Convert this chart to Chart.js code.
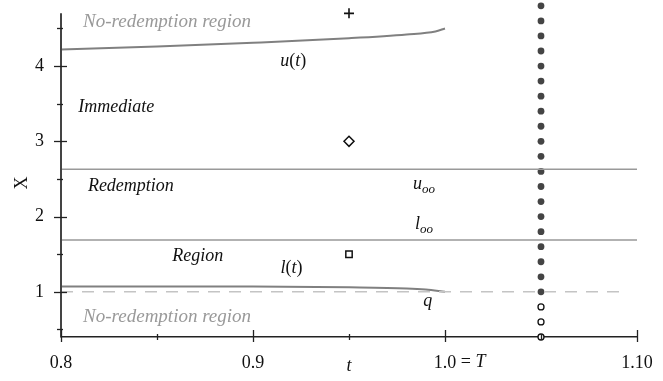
<!DOCTYPE html>
<html>
<head>
<meta charset="utf-8">
<script src="https://cdn.jsdelivr.net/npm/chart.js@4"></script>
<style>
  body { margin: 0; background: #fff; }
  canvas { display: block; }
</style>
</head>
<body>
<canvas id="regionChart" width="663" height="381"></canvas>
<script>
// boundary curves
const uT = [0.8, 0.85, 0.9, 0.95, 0.98, 0.995, 1.0];
const uX = [4.22, 4.26, 4.31, 4.37, 4.42, 4.46, 4.50];
const lT = [0.8, 0.9, 0.95, 0.98, 0.99, 1.0];
const lX = [1.07, 1.07, 1.06, 1.045, 1.03, 1.0];

// limits
const uInf = 2.63;
const lInf = 1.69;
const q = 1.0;

// column at t = 1.05
const colT = 1.05;
const filledX = [1.0, 1.2, 1.4, 1.6, 1.8, 2.0, 2.2, 2.4, 2.6, 2.8, 3.0, 3.2, 3.4, 3.6, 3.8, 4.0, 4.2, 4.4, 4.6, 4.8];
const openX = [0.4, 0.6, 0.8];

// single markers at t = 0.95
const markT = 0.95;
const plusX = 4.7;
const diamondX = 3.0;
const squareX = 1.5;

const xTicks = [0.8, 0.85, 0.9, 0.95, 1.0, 1.05, 1.1];
const xLabels = ['0.8', '', '0.9', '', '1.0', '', '1.10'];
const yTicks = [0.5, 1, 1.5, 2, 2.5, 3, 3.5, 4, 4.5];
const yLabels = ['', '1', '', '2', '', '3', '', '4', ''];
const yAxisTop = 4.7;

const serif = "'Liberation Serif', 'DejaVu Serif', serif";
const pts = (xs, ys) => xs.map((x, i) => ({ x: x, y: ys[i] }));
const col = (t, ys) => ys.map(y => ({ x: t, y: y }));

// draw a run of text pieces centred (or left aligned) at x,y
function runs(ctx, x, y, parts, align) {
  let w = 0;
  parts.forEach(p => {
    ctx.font = (p.italic ? 'italic ' : '') + (p.size || 18) + 'px ' + serif;
    p.w = ctx.measureText(p.s).width;
    w += p.w;
  });
  let cx = align === 'left' ? x : x - w / 2;
  parts.forEach(p => {
    ctx.font = (p.italic ? 'italic ' : '') + (p.size || 18) + 'px ' + serif;
    ctx.fillStyle = p.color || '#111';
    ctx.textAlign = 'left';
    ctx.textBaseline = 'middle';
    ctx.fillText(p.s, cx, y + (p.dy || 0));
    cx += p.w;
  });
}

const decor = {
  id: 'decor',
  afterDraw(chart) {
    const ctx = chart.ctx;
    const xs = chart.scales.x, ys = chart.scales.y;
    const X = v => xs.getPixelForValue(v);
    const Y = v => ys.getPixelForValue(v);
    ctx.save();
    // y axis line, stops at 4.7
    ctx.strokeStyle = '#444';
    ctx.lineWidth = 2;
    ctx.beginPath();
    ctx.moveTo(xs.left, Y(yAxisTop));
    ctx.lineTo(xs.left, ys.bottom);
    ctx.stroke();
    // crossing ticks
    ctx.strokeStyle = '#222';
    ctx.lineWidth = 1.3;
    xTicks.forEach((v, i) => {
      const major = xLabels[i] !== '';
      const px = Math.round(X(v)) + 0.5;
      ctx.beginPath();
      ctx.moveTo(px, ys.bottom - (major ? 7 : 3));
      ctx.lineTo(px, ys.bottom + (major ? 5 : 3));
      ctx.stroke();
    });
    yTicks.forEach((v, i) => {
      const major = yLabels[i] !== '';
      const py = Math.round(Y(v)) + 0.5;
      ctx.beginPath();
      ctx.moveTo(xs.left - (major ? 7 : 4), py);
      ctx.lineTo(xs.left + (major ? 6 : 2), py);
      ctx.stroke();
    });
    // "= T" after 1.0
    ctx.font = '18px ' + serif;
    const w10 = ctx.measureText('1.0').width;
    runs(ctx, X(1.0) + w10 / 2, 362, [{ s: ' = ' }, { s: 'T', italic: true }], 'left');
    // axis titles
    runs(ctx, X(0.95), 366, [{ s: 't', italic: true }]);
    ctx.save();
    ctx.translate(22, 183);
    ctx.rotate(-Math.PI / 2);
    runs(ctx, 0, 0, [{ s: 'X' }]);
    ctx.restore();
    // region labels
    const grey = '#999';
    runs(ctx, X(0.8115), Y(4.58), [{ s: 'No-redemption region', italic: true, color: grey, size: 19 }], 'left');
    runs(ctx, X(0.8115), Y(0.66), [{ s: 'No-redemption region', italic: true, color: grey, size: 19 }], 'left');
    runs(ctx, X(0.809), Y(3.45), [{ s: 'Immediate', italic: true }], 'left');
    runs(ctx, X(0.814), Y(2.40), [{ s: 'Redemption', italic: true }], 'left');
    runs(ctx, X(0.858), Y(1.47), [{ s: 'Region', italic: true }], 'left');
    runs(ctx, X(0.921), Y(4.06), [{ s: 'u', italic: true }, { s: '(' }, { s: 't', italic: true }, { s: ')' }]);
    runs(ctx, X(0.920), Y(1.31), [{ s: 'l', italic: true }, { s: '(' }, { s: 't', italic: true }, { s: ')' }]);
    runs(ctx, X(0.989), Y(2.43), [{ s: 'u', italic: true }, { s: 'oo', italic: true, size: 13, dy: 5 }]);
    runs(ctx, X(0.989), Y(1.90), [{ s: 'l', italic: true }, { s: 'oo', italic: true, size: 13, dy: 5 }]);
    runs(ctx, X(0.991), Y(0.88), [{ s: 'q', italic: true }]);
    ctx.restore();
  }
};

new Chart(document.getElementById('regionChart'), {
  type: 'scatter',
  data: {
    datasets: [
      {
        data: [{ x: 0.8, y: q }, { x: 1.095, y: q }],
        showLine: true, borderColor: '#c4c4c4', borderWidth: 1.5, borderDash: [12, 9], pointRadius: 0
      },
      {
        data: [{ x: 0.8, y: uInf }, { x: 1.1, y: uInf }],
        showLine: true, borderColor: '#999', borderWidth: 1.5, pointRadius: 0
      },
      {
        data: [{ x: 0.8, y: lInf }, { x: 1.1, y: lInf }],
        showLine: true, borderColor: '#999', borderWidth: 1.5, pointRadius: 0
      },
      {
        data: pts(uT, uX),
        showLine: true, borderColor: '#808080', borderWidth: 2, pointRadius: 0, cubicInterpolationMode: 'monotone'
      },
      {
        data: pts(lT, lX),
        showLine: true, borderColor: '#808080', borderWidth: 2, pointRadius: 0, cubicInterpolationMode: 'monotone'
      },
      {
        data: col(colT, filledX),
        pointRadius: 3.4, pointBackgroundColor: '#444', pointBorderWidth: 0, clip: false
      },
      {
        data: col(colT, openX),
        pointRadius: 3, pointBackgroundColor: '#fff', pointBorderColor: '#111', pointBorderWidth: 1.3, clip: false
      },
      {
        data: [{ x: markT, y: plusX }],
        pointStyle: 'cross', pointRadius: 5, pointBorderColor: '#111', pointBorderWidth: 1.6, clip: false
      },
      {
        data: [{ x: markT, y: diamondX }],
        pointStyle: 'rectRot', pointRadius: 5, pointBackgroundColor: '#fff', pointBorderColor: '#111', pointBorderWidth: 1.5
      },
      {
        data: [{ x: markT, y: squareX }],
        pointStyle: 'rect', pointRadius: 4.5, pointBackgroundColor: '#fff', pointBorderColor: '#111', pointBorderWidth: 1.5
      }
    ]
  },
  options: {
    responsive: false,
    animation: false,
    layout: { padding: { top: 1, right: 26, left: 0, bottom: 0 } },
    plugins: { legend: { display: false }, tooltip: { enabled: false } },
    scales: {
      x: {
        type: 'linear', min: 0.8, max: 1.1,
        afterFit: s => { s.height = 44; s.paddingLeft = 0; s.paddingRight = 0; },
        afterBuildTicks: s => { s.ticks = xTicks.map(v => ({ value: v })); },
        grid: { display: false, drawTicks: false },
        border: { color: '#222', width: 1.5 },
        ticks: {
          padding: 15, maxRotation: 0, autoSkip: false, color: '#111',
          font: { family: serif, size: 18 },
          callback: (v, i) => xLabels[i]
        }
      },
      y: {
        type: 'linear', min: 0.4, max: 4.79,
        afterFit: s => { s.width = 61; s.paddingTop = 0; s.paddingBottom = 0; },
        afterBuildTicks: s => { s.ticks = yTicks.map(v => ({ value: v })); },
        grid: { display: false, drawTicks: false },
        border: { display: false },
        ticks: {
          padding: 17, autoSkip: false, color: '#111',
          font: { family: serif, size: 18 },
          callback: (v, i) => yLabels[i]
        }
      }
    }
  },
  plugins: [decor]
});
</script>
</body>
</html>
